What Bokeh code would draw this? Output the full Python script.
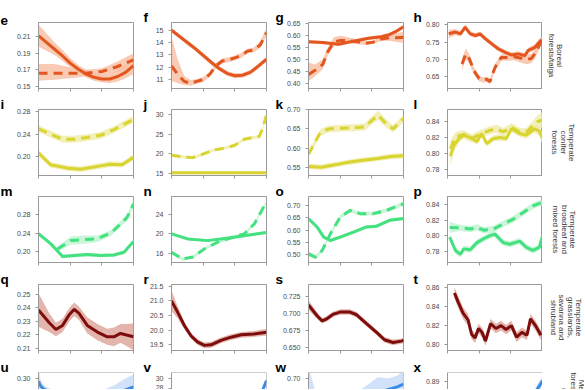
import math
from bokeh.plotting import figure
from bokeh.layouts import column, row
from bokeh.models import Range1d, FixedTicker, PrintfTickFormatter, Label, Span, Title
from bokeh.embed import file_html
from bokeh.resources import INLINE

FONT = "Liberation Sans"
GREY = "#9a9a9a"
TICK_TXT = "#4a4a4a"

# ---- colours (line, band) per biome ----
BOREAL = ("#e4561f", "#f8bea3")
CONIF = ("#d8d430", "#f0eba8")
BROAD = ("#43e17f", "#bdf3cf")
GRASS = ("#7d0c0c", "#dca299")
MEDIT = ("#3a8be8", "#c4d9f7")

ROW_LABELS = [["Boreal", "forests/taiga"],
              ["Temperate", "conifer", "forests"],
              ["Temperate", "broadleaf and", "mixed forests"],
              ["Temperate", "grasslands,", "savanna and", "shrubland"],
              ["Mediterranean", "forests, woodlands", "and scrub"]]

# ---------------- data (x: position along the 3-tick axis) ----------------
# e
E_S_X = [0, 0.25, 0.5, 0.75, 1.0, 1.25, 1.5, 1.75, 2.0, 2.25, 2.5, 2.75, 3.0]
E_S_Y = [0.211, 0.203, 0.195, 0.187, 0.178, 0.171, 0.165, 0.161, 0.159, 0.159, 0.162, 0.167, 0.175]
E_S_LO = [0.198, 0.193, 0.188, 0.181, 0.173, 0.167, 0.161, 0.157, 0.155, 0.154, 0.156, 0.160, 0.165]
E_S_HI = [0.224, 0.214, 0.203, 0.194, 0.184, 0.176, 0.170, 0.166, 0.164, 0.165, 0.169, 0.176, 0.186]
E_D_X = [0, 0.5, 1.0, 1.5, 2.0, 2.5, 3.0]
E_D_Y = [0.166, 0.166, 0.166, 0.166, 0.168, 0.174, 0.182]
E_D_LO = [0.157, 0.158, 0.160, 0.162, 0.163, 0.167, 0.173]
E_D_HI = [0.177, 0.177, 0.173, 0.170, 0.172, 0.180, 0.190]
# f
F_S_X = [0, 0.25, 0.5, 0.75, 1.0, 1.25, 1.5, 1.75, 2.0, 2.25, 2.5, 2.75, 3.0]
F_S_Y = [15.0, 14.5, 14.0, 13.5, 12.95, 12.4, 11.9, 11.5, 11.3, 11.35, 11.6, 12.1, 12.65]
F_S_W = [0.2] * 13
F_D_X = [0, 0.2, 0.4, 0.6, 0.8, 1.0, 1.2, 1.4, 1.6, 1.8, 2.0, 2.2, 2.4, 2.6, 2.8, 3.0]
F_D_Y = [12.1, 11.4, 10.85, 10.7, 10.85, 11.0, 11.4, 12.1, 12.5, 12.6, 12.75, 12.95, 13.3, 13.4, 13.8, 14.8]
F_D_LO = [10.9, 10.7, 10.55, 10.5, 10.65, 10.8, 11.2, 11.9, 12.3, 12.4, 12.55, 12.75, 13.1, 13.2, 13.55, 14.5]
F_D_HI = [14.5, 12.6, 11.3, 10.95, 11.05, 11.2, 11.6, 12.3, 12.7, 12.8, 12.95, 13.15, 13.5, 13.6, 14.05, 15.2]
# g
G_S_X = [0, 0.45, 0.95, 1.5, 1.9, 2.3, 2.55, 2.75, 3.0]
G_S_Y = [0.573, 0.570, 0.563, 0.578, 0.588, 0.594, 0.603, 0.615, 0.635]
G_S_W = [0.007] * 9
G_D_X = [0, 0.2, 0.45, 0.6, 0.8, 1.0, 1.25, 1.5, 1.8, 2.05, 2.3, 2.55, 2.8, 3.0]
G_D_Y = [0.438, 0.455, 0.48, 0.53, 0.572, 0.579, 0.578, 0.574, 0.567, 0.572, 0.585, 0.59, 0.59, 0.592]
G_D_LO = [0.412, 0.43, 0.46, 0.515, 0.558, 0.563, 0.565, 0.564, 0.560, 0.565, 0.577, 0.578, 0.572, 0.568]
G_D_HI = [0.488, 0.48, 0.50, 0.548, 0.592, 0.598, 0.592, 0.584, 0.575, 0.580, 0.593, 0.602, 0.610, 0.615]
# h
H_S_X = [0.04, 0.25, 0.41, 0.56, 0.72, 0.88, 1.03, 1.19, 1.4, 1.6, 1.81, 2.02, 2.23, 2.44, 2.55, 2.76, 2.97]
H_S_Y = [0.774, 0.779, 0.774, 0.793, 0.774, 0.769, 0.774, 0.760, 0.745, 0.731, 0.721, 0.713, 0.716, 0.711, 0.726, 0.735, 0.757]
H_S_W = [0.012, 0.009, 0.008, 0.008, 0.007, 0.007, 0.007, 0.007, 0.007, 0.007, 0.007, 0.008, 0.008, 0.008, 0.008, 0.009, 0.010]
H_D_X = [0.46, 0.58, 0.7, 0.83, 1.0, 1.12, 1.24, 1.34, 1.5, 1.7, 1.9, 2.1, 2.3, 2.5, 2.65, 2.8, 2.97]
H_D_Y = [0.687, 0.716, 0.700, 0.668, 0.645, 0.641, 0.643, 0.636, 0.677, 0.706, 0.706, 0.708, 0.704, 0.700, 0.703, 0.721, 0.755]
H_D_W = [0.016, 0.016, 0.013, 0.010, 0.008, 0.008, 0.008, 0.008, 0.010, 0.010, 0.010, 0.010, 0.013, 0.014, 0.013, 0.012, 0.010]
# i
I_S_X = [0, 0.38, 0.91, 1.33, 1.96, 2.27, 2.64, 3.0]
I_S_Y = [0.207, 0.186, 0.180, 0.178, 0.184, 0.187, 0.186, 0.199]
I_S_W = [0.005] * 8
I_D_X = [0, 0.38, 0.75, 1.12, 1.54, 1.96, 2.38, 3.0]
I_D_Y = [0.2495, 0.240, 0.231, 0.231, 0.234, 0.238, 0.248, 0.266]
I_D_W = [0.006] * 8
# j
J_S_X = [0, 1, 2, 3]
J_S_Y = [15.1, 15.1, 15.1, 15.1]
J_S_W = [0.35] * 4
J_D_X = [0, 0.35, 0.67, 0.93, 1.35, 1.67, 1.98, 2.3, 2.6, 2.77, 2.88, 3.0]
J_D_Y = [19.6, 19.2, 19.0, 19.7, 21.0, 21.4, 22.1, 23.7, 24.2, 24.4, 26.5, 30.0]
J_D_W = [0.4] * 12
# k
K_S_X = [0, 0.4, 0.8, 1.2, 1.7, 2.2, 2.6, 3.0]
K_S_Y = [0.552, 0.550, 0.556, 0.562, 0.568, 0.573, 0.578, 0.580]
K_S_W = [0.007] * 8
K_D_X = [0, 0.375, 0.64, 1.0, 1.42, 1.78, 1.94, 2.2, 2.4, 2.67, 3.0]
K_D_Y = [0.584, 0.641, 0.650, 0.652, 0.653, 0.655, 0.668, 0.686, 0.668, 0.650, 0.677]
K_D_W = [0.008, 0.009, 0.009, 0.009, 0.009, 0.009, 0.010, 0.012, 0.011, 0.009, 0.010]
# l
L_S_X = [0.09, 0.2, 0.35, 0.51, 0.72, 0.93, 1.08, 1.24, 1.45, 1.66, 1.86, 2.02, 2.28, 2.49, 2.75, 2.9, 3.0]
L_S_Y = [0.797, 0.810, 0.818, 0.823, 0.820, 0.815, 0.825, 0.8125, 0.819, 0.820, 0.819, 0.831, 0.825, 0.823, 0.831, 0.828, 0.819]
L_S_W = [0.012, 0.008, 0.005, 0.004, 0.004, 0.004, 0.004, 0.004, 0.004, 0.004, 0.004, 0.004, 0.004, 0.004, 0.005, 0.006, 0.007]
L_D_X = [0.09, 0.25, 0.51, 0.77, 1.03, 1.34, 1.55, 1.76, 2.02, 2.28, 2.49, 2.7, 2.85, 3.0]
L_D_Y = [0.806, 0.821, 0.824, 0.819, 0.824, 0.829, 0.831, 0.827, 0.833, 0.827, 0.827, 0.835, 0.840, 0.842]
L_D_W = [0.010, 0.006, 0.005, 0.005, 0.005, 0.005, 0.005, 0.005, 0.005, 0.005, 0.005, 0.006, 0.008, 0.010]
# m
M_S_X = [0, 0.39, 0.76, 1.13, 1.54, 1.96, 2.38, 2.7, 3.0]
M_S_Y = [0.239, 0.217, 0.190, 0.192, 0.194, 0.192, 0.193, 0.199, 0.222]
M_S_W = [0.004] * 9
M_D_X = [0.6, 1.02, 1.44, 1.86, 2.28, 2.6, 2.8, 3.0]
M_D_Y = [0.206, 0.224, 0.226, 0.228, 0.240, 0.260, 0.274, 0.303]
M_D_W = [0.006, 0.009, 0.009, 0.007, 0.006, 0.006, 0.007, 0.008]
# n
N_S_X = [0, 0.51, 1.14, 1.56, 1.98, 2.5, 3.0]
N_S_Y = [20.0, 18.96, 18.6, 18.96, 19.3, 19.8, 20.3]
N_S_W = [0.3] * 7
N_D_X = [0, 0.35, 0.67, 1.04, 1.46, 1.88, 2.3, 2.62, 3.0]
N_D_Y = [16.2, 14.8, 15.2, 16.9, 18.3, 19.2, 20.0, 22.1, 26.6]
N_D_W = [0.35] * 9
# o
O_S_X = [0, 0.27, 0.48, 0.69, 1.0, 1.42, 1.83, 2.15, 2.56, 3.0]
O_S_Y = [0.647, 0.613, 0.572, 0.558, 0.572, 0.592, 0.613, 0.616, 0.640, 0.647]
O_S_W = [0.007] * 10
O_D_X = [0, 0.22, 0.43, 0.69, 1.0, 1.31, 1.63, 2.04, 2.46, 3.0]
O_D_Y = [0.504, 0.490, 0.517, 0.585, 0.653, 0.680, 0.667, 0.667, 0.680, 0.707]
O_D_W = [0.010, 0.009, 0.008, 0.008, 0.008, 0.008, 0.008, 0.008, 0.008, 0.009]
# p
P_S_X = [0.07, 0.25, 0.41, 0.51, 0.72, 0.93, 1.14, 1.34, 1.5, 1.76, 1.97, 2.28, 2.49, 2.7, 2.9, 3.0]
P_S_Y = [0.798, 0.781, 0.776, 0.783, 0.782, 0.791, 0.796, 0.800, 0.802, 0.791, 0.789, 0.793, 0.785, 0.781, 0.785, 0.800]
P_S_W = [0.004] * 16
P_D_X = [0.07, 0.41, 0.72, 0.93, 1.14, 1.45, 1.76, 2.07, 2.39, 2.7, 3.0]
P_D_Y = [0.8106, 0.810, 0.8085, 0.8106, 0.807, 0.8085, 0.815, 0.821, 0.8297, 0.8382, 0.843]
P_D_W = [0.007, 0.004, 0.004, 0.004, 0.004, 0.004, 0.004, 0.004, 0.004, 0.004, 0.004]
# q
Q_X = [0, 0.34, 0.55, 0.76, 0.97, 1.13, 1.28, 1.54, 1.86, 2.17, 2.38, 2.59, 2.75, 3.0]
Q_Y = [0.2385, 0.229, 0.224, 0.227, 0.235, 0.239, 0.236, 0.227, 0.222, 0.2185, 0.2185, 0.221, 0.220, 0.2185]
Q_W = [0.0125, 0.007, 0.005, 0.005, 0.005, 0.005, 0.005, 0.006, 0.006, 0.006, 0.007, 0.007, 0.008, 0.010]
# r
R_X = [0, 0.2, 0.41, 0.62, 0.83, 1.04, 1.25, 1.56, 1.88, 2.2, 2.6, 3.0]
R_Y = [21.0, 20.6, 20.15, 19.8, 19.59, 19.48, 19.5, 19.65, 19.76, 19.84, 19.87, 19.93]
R_W = [0.35, 0.2, 0.12, 0.1, 0.1, 0.1, 0.1, 0.1, 0.1, 0.1, 0.1, 0.12]
# s
S_X = [0, 0.27, 0.43, 0.58, 0.79, 1.0, 1.31, 1.52, 1.83, 2.15, 2.4, 2.67, 2.93, 3.0]
S_Y = [0.7125, 0.6966, 0.689, 0.692, 0.699, 0.702, 0.702, 0.698, 0.685, 0.672, 0.661, 0.657, 0.659, 0.660]
S_W = [0.007, 0.005, 0.004, 0.004, 0.004, 0.004, 0.004, 0.004, 0.004, 0.004, 0.004, 0.004, 0.004, 0.004]
# t
T_X = [0.22, 0.33, 0.49, 0.65, 0.76, 0.87, 0.98, 1.09, 1.2, 1.36, 1.53, 1.69, 1.85, 2.02, 2.18, 2.35, 2.51, 2.62, 2.78, 2.95]
T_Y = [0.854, 0.845, 0.833, 0.826, 0.811, 0.807, 0.817, 0.813, 0.804, 0.822, 0.817, 0.820, 0.816, 0.820, 0.808, 0.813, 0.810, 0.827, 0.820, 0.810]
T_W = [0.006] * 4 + [0.005] * 16
# u..x (only the top of this row is visible)
U_X = [0, 0.05, 0.15, 0.3, 0.6, 1.0, 1.5, 2.0, 2.4, 2.7, 3.0]
U_Y = [0.292, 0.280, 0.270, 0.262, 0.255, 0.250, 0.250, 0.252, 0.258, 0.265, 0.275]
U_LO = [0.26, 0.26, 0.258, 0.252, 0.246, 0.242, 0.242, 0.243, 0.246, 0.25, 0.255]
U_HI = [0.33, 0.30, 0.282, 0.272, 0.265, 0.260, 0.260, 0.265, 0.280, 0.298, 0.312]
V_X = [0, 0.5, 1.0, 1.5, 2.0, 2.5, 2.75, 2.9, 3.0]
V_Y = [24.0, 22.0, 21.0, 21.0, 21.5, 23.0, 25.0, 28.0, 29.6]
V_W = [0.6] * 9
W_X = [0, 0.08, 0.2, 0.5, 1.0, 1.5, 1.9, 2.2, 2.5, 2.8, 3.0]
W_Y = [0.66, 0.64, 0.62, 0.60, 0.60, 0.61, 0.63, 0.65, 0.66, 0.67, 0.68]
W_LO = [0.60, 0.60, 0.59, 0.58, 0.58, 0.59, 0.60, 0.62, 0.63, 0.64, 0.65]
W_HI = [0.74, 0.71, 0.66, 0.63, 0.63, 0.65, 0.68, 0.705, 0.70, 0.71, 0.73]
X_X = [0, 1.0, 2.0, 2.6, 2.8, 3.0]
X_Y = [0.86, 0.862, 0.866, 0.875, 0.884, 0.8905]
X_W = [0.003] * 6


def sym(y, w):
    return [a - b for a, b in zip(y, w)], [a + b for a, b in zip(y, w)]


# ---------------- layout geometry (pixels) ----------------
COL_LB = [38, 28, 33, 34]
COL_RB = [10, 9, 10, 0]
ROW_TB = [22, 14, 14, 14, 14]
ROW_BB = [7, 7, 8, 8, 0]
ROW_FH = [66, 66, 66, 66, 17]
LAB_W = 42
LAB_LINE_X = [[17, 8.5], [29, 20.5, 12], [30, 21.5, 13], [36, 27.5, 19, 10.5], [39, 30.5, 22]]


def panel(col, rowi, letter, yr, yticks, fmt, colors, series):
    last = rowi == 4
    line_c, band_c = colors
    p = figure(frame_width=95, frame_height=ROW_FH[rowi],
               x_range=Range1d(0, 3), y_range=Range1d(*yr),
               output_backend="svg", toolbar_location=None, title=None,
               min_border_left=COL_LB[col], min_border_right=COL_RB[col],
               min_border_top=ROW_TB[rowi], min_border_bottom=ROW_BB[rowi])
    p.xgrid.visible = False
    p.ygrid.visible = False
    p.border_fill_color = "white"
    for xs, ys, lo, hi, dashed in series:
        p.varea(x=xs, y1=lo, y2=hi, fill_color=band_c, fill_alpha=0.8)
    for xs, ys, lo, hi, dashed in series:
        p.line(x=xs, y=ys, line_color=line_c, line_width=3,
               line_dash="9 6" if dashed else "solid")
    for ax in p.axis:
        ax.axis_line_color = GREY
        ax.major_tick_line_color = GREY
        ax.minor_tick_line_color = None
        ax.major_tick_out = 3
        ax.major_tick_in = 0
        ax.major_label_text_font = FONT
        ax.major_label_text_font_size = "7px"
        ax.major_label_text_color = TICK_TXT
    p.xaxis.ticker = FixedTicker(ticks=[0, 1, 2, 3])
    p.xaxis.major_label_overrides = {0: "", 1: "", 2: "", 3: ""}
    p.xaxis.major_label_text_font_size = "0px"
    p.xaxis.major_label_standoff = 0
    p.yaxis.ticker = FixedTicker(ticks=yticks)
    p.yaxis.formatter = PrintfTickFormatter(format=fmt)
    p.yaxis.major_label_standoff = 5
    if last:
        p.xaxis.visible = False
        p.outline_line_color = None
        p.add_layout(Span(location=3, dimension="height", line_color=GREY, line_width=1))
        p.add_layout(Span(location=yr[1], dimension="width", line_color=GREY, line_width=1))
    else:
        p.outline_line_color = GREY
    p.add_layout(Title(text=letter, align="left", offset=-COL_LB[col], standoff=-4,
                       text_font=FONT, text_font_style="bold", text_font_size="13.5px",
                       text_color="black"), "above")
    return p


def label_fig(rowi):
    fh = ROW_FH[rowi]
    p = figure(frame_width=LAB_W, frame_height=fh, x_range=Range1d(0, LAB_W),
               y_range=Range1d(0, fh), output_backend="svg", toolbar_location=None,
               title=None, min_border_left=0, min_border_right=0,
               min_border_top=ROW_TB[rowi], min_border_bottom=ROW_BB[rowi])
    p.axis.visible = False
    p.grid.visible = False
    p.outline_line_color = None
    cy = fh - 33  # middle of a full-height panel
    for txt, lx in zip(ROW_LABELS[rowi], LAB_LINE_X[rowi]):
        p.add_layout(Label(x=lx, y=cy, angle=-math.pi / 2, text=txt, text_font=FONT,
                           text_font_size="8px", text_color="#3a3a3a",
                           text_align="center", text_baseline="middle"))
    return p


def S(x, y, w, dashed=False):
    lo, hi = sym(y, w)
    return (x, y, lo, hi, dashed)


rows = [
    [panel(0, 0, "e", (0.1476, 0.2268), [0.15, 0.17, 0.19, 0.21], "%.2f", BOREAL,
           [(E_S_X, E_S_Y, E_S_LO, E_S_HI, False), (E_D_X, E_D_Y, E_D_LO, E_D_HI, True)]),
     panel(1, 0, "f", (10.27, 15.62), [11, 12, 13, 14, 15], "%d", BOREAL,
           [S(F_S_X, F_S_Y, F_S_W), (F_D_X, F_D_Y, F_D_LO, F_D_HI, True)]),
     panel(2, 0, "g", (0.3806, 0.6529), [0.40, 0.45, 0.50, 0.55, 0.60, 0.65], "%.2f", BOREAL,
           [S(G_S_X, G_S_Y, G_S_W), (G_D_X, G_D_Y, G_D_LO, G_D_HI, True)]),
     panel(3, 0, "h", (0.6163, 0.8066), [0.65, 0.70, 0.75, 0.80], "%.2f", BOREAL,
           [S(H_S_X, H_S_Y, H_S_W), S(H_D_X, H_D_Y, H_D_W, True)])],
    [panel(0, 1, "i", (0.167, 0.2835), [0.20, 0.24, 0.28], "%.2f", CONIF,
           [S(I_S_X, I_S_Y, I_S_W), S(I_D_X, I_D_Y, I_D_W, True)]),
     panel(1, 1, "j", (14.41, 31.36), [15, 20, 25, 30], "%d", CONIF,
           [S(J_S_X, J_S_Y, J_S_W), S(J_D_X, J_D_Y, J_D_W, True)]),
     panel(2, 1, "k", (0.5283, 0.7008), [0.55, 0.60, 0.65, 0.70], "%.2f", CONIF,
           [S(K_S_X, K_S_Y, K_S_W), S(K_D_X, K_D_Y, K_D_W, True)]),
     panel(3, 1, "l", (0.7729, 0.8549), [0.78, 0.80, 0.82, 0.84], "%.2f", CONIF,
           [S(L_S_X, L_S_Y, L_S_W), S(L_D_X, L_D_Y, L_D_W, True)])],
    [panel(0, 2, "m", (0.177, 0.3186), [0.20, 0.24, 0.28], "%.2f", BROAD,
           [S(M_S_X, M_S_Y, M_S_W), S(M_D_X, M_D_Y, M_D_W, True)]),
     panel(1, 2, "n", (14.08, 27.72), [16, 20, 24], "%d", BROAD,
           [S(N_S_X, N_S_Y, N_S_W), S(N_D_X, N_D_Y, N_D_W, True)]),
     panel(2, 2, "o", (0.4688, 0.7365), [0.50, 0.55, 0.60, 0.65, 0.70], "%.2f", BROAD,
           [S(O_S_X, O_S_Y, O_S_W), S(O_D_X, O_D_Y, O_D_W, True)]),
     panel(3, 2, "p", (0.7655, 0.8503), [0.78, 0.80, 0.82, 0.84], "%.2f", BROAD,
           [S(P_S_X, P_S_Y, P_S_W), S(P_D_X, P_D_Y, P_D_W, True)])],
    [panel(0, 3, "q", (0.2083, 0.2575), [0.21, 0.22, 0.23, 0.24, 0.25], "%.2f", GRASS,
           [S(Q_X, Q_Y, Q_W)]),
     panel(1, 3, "r", (19.305, 21.558), [19.5, 20.0, 20.5, 21.0, 21.5], "%.1f", GRASS,
           [S(R_X, R_Y, R_W)]),
     panel(2, 3, "s", (0.6451, 0.7428), [0.650, 0.675, 0.700, 0.725], "%.3f", GRASS,
           [S(S_X, S_Y, S_W)]),
     panel(3, 3, "t", (0.7941, 0.8628), [0.80, 0.82, 0.84, 0.86], "%.2f", GRASS,
           [S(T_X, T_Y, T_W)])],
    [panel(0, 4, "u", (0.2676, 0.3176), [0.25, 0.30], "%.2f", MEDIT,
           [(U_X, U_Y, U_LO, U_HI, False)]),
     panel(1, 4, "v", (27.8, 31.2), [28, 30], "%d", MEDIT,
           [S(V_X, V_Y, V_W)]),
     panel(2, 4, "w", (0.6607, 0.7214), [0.65, 0.70], "%.2f", MEDIT,
           [(W_X, W_Y, W_LO, W_HI, False)]),
     panel(3, 4, "x", (0.8850, 0.8956), [0.88, 0.89], "%.2f", MEDIT,
           [S(X_X, X_Y, X_W)])],
]

layout = column(*[row(*(r + [label_fig(i)])) for i, r in enumerate(rows)])
open("out.html", "w").write(file_html(layout, INLINE))
